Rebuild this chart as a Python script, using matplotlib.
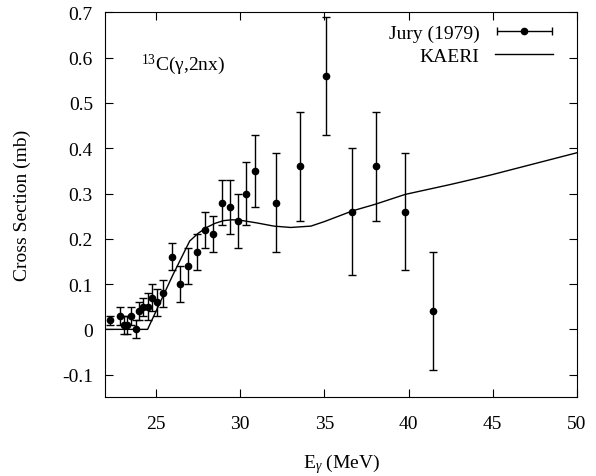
import matplotlib

matplotlib.use("Agg")
import matplotlib.pyplot as plt
import numpy as np
from matplotlib.legend_handler import HandlerErrorbar

plt.rcParams["font.family"] = ["Liberation Serif", "DejaVu Serif"]
plt.rcParams["mathtext.fontset"] = "custom"
plt.rcParams["mathtext.rm"] = "Liberation Serif"
plt.rcParams["mathtext.it"] = "Liberation Serif:italic"

# Jury (1979) measurement
jury_e = [22.26, 22.86, 23.10, 23.30, 23.50, 23.80, 24.00, 24.25, 24.50, 24.76,
          25.04, 25.43, 25.93, 26.43, 26.92, 27.42, 27.92, 28.41, 28.91, 29.40,
          29.88, 30.36, 30.89, 32.13, 33.57, 35.08, 36.67, 38.04, 39.80, 41.47]
jury_xs = [0.02, 0.03, 0.01, 0.01, 0.03, 0.00, 0.04, 0.05, 0.05, 0.07,
           0.06, 0.08, 0.16, 0.10, 0.14, 0.17, 0.22, 0.21, 0.28, 0.27,
           0.24, 0.30, 0.35, 0.28, 0.36, 0.56, 0.26, 0.36, 0.26, 0.04]
jury_err = [0.01, 0.02, 0.02, 0.02, 0.02, 0.02, 0.02, 0.02, 0.03, 0.03,
            0.03, 0.03, 0.03, 0.04, 0.04, 0.04, 0.04, 0.04, 0.05, 0.06,
            0.06, 0.07, 0.08, 0.11, 0.12, 0.13, 0.14, 0.12, 0.13, 0.13]

# KAERI evaluation
kaeri_e = [22.0, 24.5, 25.0, 26.0, 27.0, 27.5, 28.0, 28.5, 29.0, 29.5, 30.0,
           31.0, 32.0, 33.0, 34.2, 35.0, 36.7, 38.0, 39.8, 42.5, 44.0, 45.0, 50.0]
kaeri_xs = [0.0, 0.0, 0.04, 0.12, 0.195, 0.212, 0.225, 0.234, 0.24, 0.242, 0.241,
            0.235, 0.228, 0.225, 0.228, 0.238, 0.262, 0.276, 0.298, 0.32, 0.333,
            0.342, 0.39]

FS = 14

fig = plt.figure(figsize=(5.96, 4.77), dpi=100)
ax = fig.add_axes([0.177, 0.165, 0.791, 0.807])

ax.errorbar(jury_e, jury_xs, yerr=jury_err, fmt="o", color="black",
            markersize=4.5, elinewidth=1, capsize=3, capthick=1)
kaeri_line, = ax.plot(kaeri_e, kaeri_xs, color="black", linewidth=1)

# legend proxy: gnuplot style horizontal error bar symbol
jury_proxy = ax.errorbar([np.nan], [np.nan], xerr=[1], fmt="o", color="black",
                         markersize=4.5, elinewidth=1, capsize=3, capthick=1)

ax.set_xlim(22, 50)
ax.set_ylim(-0.15, 0.7)
ax.set_xticks([25, 30, 35, 40, 45, 50])
ax.set_yticks([-0.1, 0, 0.1, 0.2, 0.3, 0.4, 0.5, 0.6, 0.7])
ax.set_yticklabels(["-0.1", "0", "0.1", "0.2", "0.3", "0.4", "0.5", "0.6", "0.7"])
ax.tick_params(direction="in", top=True, right=True, length=6, labelsize=FS)
ax.tick_params(axis="y", pad=9)
ax.tick_params(axis="x", pad=13)
ax.set_xlabel(r"E$_{\gamma}$ (MeV)", fontsize=FS)
ax.set_ylabel("Cross Section (mb)", fontsize=FS)
ax.xaxis.set_label_coords(0.5, -0.14)
ax.yaxis.set_label_coords(-0.158, 0.5)

ax.text(24.1, 0.575, r"$^{13}$C(γ,2nx)", fontsize=FS)

leg = ax.legend([jury_proxy, kaeri_line], ["Jury (1979)", "KAERI"],
                loc="upper right", bbox_to_anchor=(0.975, 1.0), frameon=False,
                fontsize=FS, markerfirst=False, handlelength=3.0,
                handletextpad=0.8, borderaxespad=0.2, labelspacing=0.3,
                handler_map={type(jury_proxy): HandlerErrorbar(xerr_size=1.4)})
for col in leg._legend_handle_box.get_children():
    col.align = "right"

fig.savefig("out.png", dpi=100)
